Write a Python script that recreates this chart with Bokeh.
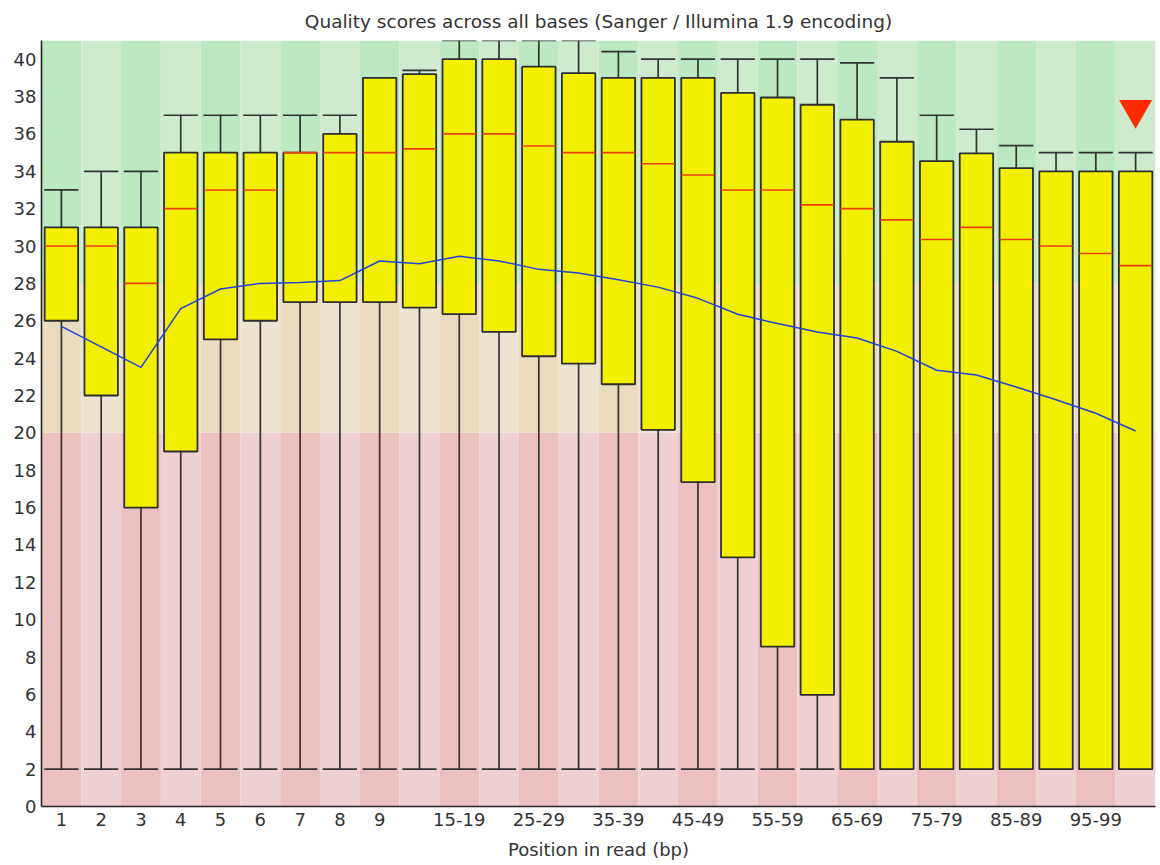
from bokeh.plotting import figure
from bokeh.models import FixedTicker, ColumnDataSource
from bokeh.embed import file_html
from bokeh.resources import INLINE

# ---------------- data ----------------
categories = ["1", "2", "3", "4", "5", "6", "7", "8", "9",
              "10-14", "15-19", "20-24", "25-29", "30-34", "35-39", "40-44",
              "45-49", "50-54", "55-59", "60-64", "65-69", "70-74", "75-79",
              "80-84", "85-89", "90-94", "95-99", "100-101"]
tick_labels = ["1", "2", "3", "4", "5", "6", "7", "8", "9",
               "", "15-19", "", "25-29", "", "35-39", "",
               "45-49", "", "55-59", "", "65-69", "", "75-79",
               "", "85-89", "", "95-99", ""]
lower_whisker = [2] * 28
q1 = [26, 22, 16, 19, 25, 26, 27, 27, 27, 26.7, 26.35, 25.4, 24.1, 23.7,
      22.6, 20.16, 17.36, 13.33, 8.56, 5.97, 2, 2, 2, 2, 2, 2, 2, 2]
median = [30, 30, 28, 32, 33, 33, 35, 35, 35, 35.2, 36, 36, 35.35, 35,
          35, 34.4, 33.8, 33, 33, 32.2, 32, 31.4, 30.35, 31, 30.35, 30, 29.6, 28.95]
q3 = [31, 31, 31, 35, 35, 35, 35, 36, 39, 39.2, 40, 40, 39.6, 39.25,
      39, 39, 39, 38.2, 37.95, 37.56, 36.76, 35.58, 34.54, 34.96, 34.17, 34, 34, 34]
upper_whisker = [33, 34, 34, 37, 37, 37, 37, 37, 39, 39.4, 41, 41, 41, 41,
                 40.4, 40, 40, 40, 40, 40, 39.8, 39, 37, 36.25, 35.37, 35, 35, 35]
mean = [25.7, 24.6, 23.5, 26.65, 27.7, 28.0, 28.05, 28.15, 29.2, 29.05, 29.45,
        29.2, 28.75, 28.55, 28.2, 27.8, 27.2, 26.35, 25.85, 25.4, 25.08, 24.36,
        23.35, 23.1, 22.45, 21.77, 21.05, 20.1]
y_ticks = list(range(0, 41, 2))
zone_limits = [0, 20, 28, 41]           # poor / reasonable / good
flag_position = [28]
flag_value = [37.3]

# ---------------- styling ----------------
FONT = "DejaVu Sans"
zone_dark = ["#ecbfc1", "#eadcbf", "#bde8c4"]
zone_light = ["#eed1d3", "#ece3d3", "#cfeacf"]

n = len(categories)
xs = list(range(1, n + 1))

p = figure(width=1160, height=865, x_range=(0.5, n + 0.5), y_range=(0, 41),
           output_backend="svg", toolbar_location=None,
           title="Quality scores across all bases (Sanger / Illumina 1.9 encoding)",
           min_border_left=41, min_border_right=5, min_border_top=40,
           min_border_bottom=59)

p.title.align = "center"
p.title.text_font = FONT
p.title.text_font_size = "18.5px"
p.title.text_font_style = "normal"
p.title.text_color = "#333333"
p.title.standoff = 17
p.outline_line_color = None
p.background_fill_color = "white"
p.xgrid.visible = False
p.ygrid.visible = False

# background zones, alternating stripes per category
bl, br, bb, bt, bc = [], [], [], [], []
for i, x in enumerate(xs):
    for z in range(3):
        bl.append(x - 0.5)
        br.append(x + 0.5)
        bb.append(zone_limits[z])
        bt.append(zone_limits[z + 1])
        bc.append(zone_dark[z] if i % 2 == 0 else zone_light[z])
p.quad(left=bl, right=br, bottom=bb, top=bt, fill_color=bc, line_color=None)

src = ColumnDataSource(dict(x=xs, lo=lower_whisker, q1=q1, med=median, q3=q3,
                            hi=upper_whisker, mean=mean,
                            xl=[x - 0.43 for x in xs], xr=[x + 0.43 for x in xs],
                            bl=[x - 0.42 for x in xs], br=[x + 0.42 for x in xs]))

# whiskers
p.segment(x0="x", y0="lo", x1="x", y1="hi", source=src, line_color="#333333", line_width=1.7)
p.segment(x0="xl", y0="hi", x1="xr", y1="hi", source=src, line_color="#333333", line_width=1.7)
p.segment(x0="xl", y0="lo", x1="xr", y1="lo", source=src, line_color="#333333", line_width=1.7)
# boxes
p.vbar(x="x", width=0.84, bottom="q1", top="q3", source=src,
       fill_color="#f2f000", line_color="#2e2e2e", line_width=1.8)
# medians
p.segment(x0="bl", y0="med", x1="br", y1="med", source=src, line_color="#e8400c", line_width=1.6)
# mean line
p.line(x="x", y="mean", source=src, line_color="#2342d8", line_width=1.5)
# flag marker
p.scatter(x=flag_position, y=flag_value, marker="inverted_triangle", size=33,
          fill_color="#ff2a00", line_color=None)

# axes
p.xaxis.ticker = FixedTicker(ticks=xs)
p.xaxis.major_label_overrides = {x: lab for x, lab in zip(xs, tick_labels)}
p.yaxis.ticker = FixedTicker(ticks=y_ticks)
p.xaxis.axis_label = "Position in read (bp)"
for ax in (p.xaxis, p.yaxis):
    ax.major_tick_out = 0
    ax.major_tick_in = 0
    ax.minor_tick_out = 0
    ax.minor_tick_in = 0
    ax.axis_line_color = "#222222"
    ax.axis_line_width = 1.6
    ax.major_label_text_font = FONT
    ax.major_label_text_font_size = "18px"
    ax.major_label_text_color = "#333333"
    ax.axis_label_text_font = FONT
    ax.axis_label_text_font_size = "18px"
    ax.axis_label_text_font_style = "normal"
    ax.axis_label_text_color = "#333333"
p.xaxis.major_label_standoff = 6
p.xaxis.axis_label_standoff = 10
p.yaxis.major_label_standoff = 5

open("out.html", "w").write(file_html(p, INLINE))
